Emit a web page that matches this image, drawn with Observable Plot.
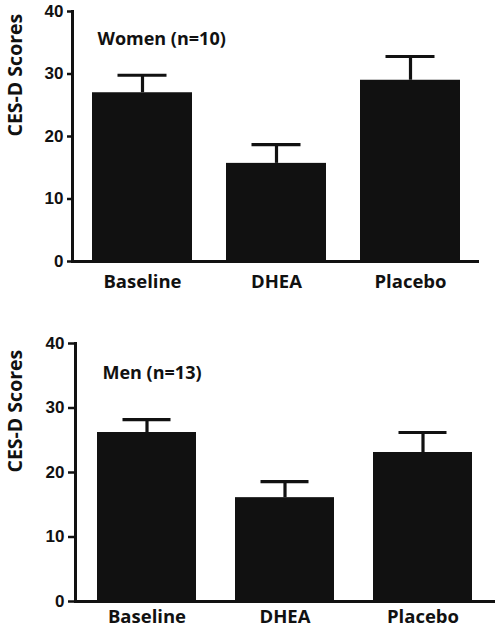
<!DOCTYPE html>
<html>
<head>
<meta charset="utf-8">
<script src="https://cdn.jsdelivr.net/npm/d3@7"></script>
<script src="https://cdn.jsdelivr.net/npm/@observablehq/plot@0.6"></script>
<style>
  html, body { margin: 0; padding: 0; background: #fff; }
  #chart { width: 498px; }
  #chart svg { display: block; }
</style>
</head>
<body>
<div id="chart"></div>
<script>
const categories = ["Baseline", "DHEA", "Placebo"];
const womenMeans = [27.0, 15.7, 29.0];
const womenErr = [2.8, 3.0, 3.8];
const menMeans = [26.2, 16.1, 23.1];
const menErr = [2.0, 2.5, 3.1];
const yTicks = [0, 10, 20, 30, 40];
const panelTitles = ["Women (n=10)", "Men (n=13)"];
const yLabel = "CES-D Scores";

const textFont = "'Open Sans', Lato, sans-serif";
const tickFont = "'Liberation Sans', Arial, sans-serif";

function panel(cfg) {
  const data = categories.map((c, i) => ({cat: c, mean: cfg.means[i], hi: cfg.means[i] + cfg.err[i]}));
  return Plot.plot({
    width: 498,
    height: cfg.height,
    marginLeft: cfg.ml,
    marginRight: cfg.mr,
    marginTop: cfg.mt,
    marginBottom: cfg.mb,
    style: {fontFamily: textFont, fontWeight: "bold", color: "#111"},
    x: {domain: categories, paddingInner: cfg.pi, paddingOuter: cfg.po, axis: null},
    y: {domain: [0, 40], axis: null},
    marks: [
      Plot.barY(data, {x: "cat", y: "mean", fill: "#111"}),
      Plot.ruleX(data, {x: "cat", y1: "mean", y2: "hi", stroke: "#111", strokeWidth: 3.2}),
      Plot.tickY(data, {x: "cat", y: "hi", stroke: "#111", strokeWidth: 3.2, insetLeft: cfg.capInset, insetRight: cfg.capInset}),
      Plot.ruleY([0], {stroke: "#111", strokeWidth: 3}),
      Plot.frame({anchor: "left", stroke: "#111", strokeWidth: 3}),
      Plot.axisY({ticks: yTicks, tickSize: cfg.tickSize, tickPadding: 4, fontSize: 17, fontFamily: tickFont, fontWeight: "bold", stroke: "#111", strokeWidth: 2.5, label: null}),
      Plot.axisX({tickSize: 0, tickPadding: cfg.xPad, fontSize: 18.5, fontFamily: textFont, fontWeight: "bold", label: null}),
      Plot.text([yLabel], {frameAnchor: "left", dx: -(cfg.ml - 15), rotate: -90, fontSize: 19.5, fontWeight: "bold", fontFamily: textFont, fill: "#111"}),
      Plot.text([cfg.title], {frameAnchor: "top-left", dx: cfg.tdx, dy: cfg.tdy, textAnchor: "start", fontSize: 18, fontWeight: "bold", fontFamily: textFont, fill: "#111"})
    ]
  });
}

const chart = document.getElementById("chart");
chart.append(panel({
  means: womenMeans, err: womenErr, title: panelTitles[0],
  height: 310, ml: 72, mr: 19, mt: 11, mb: 49,
  pi: 0.256, po: 0.141, capInset: 25.5, tickSize: 5, xPad: 13,
  tdx: 25, tdy: 21
}));
chart.append(panel({
  means: menMeans, err: menErr, title: panelTitles[1],
  height: 320, ml: 75, mr: 3, mt: 33, mb: 29,
  pi: 0.28, po: 0.151, capInset: 25.5, tickSize: 7, xPad: 8,
  tdx: 27, tdy: 23
}));
</script>
</body>
</html>
